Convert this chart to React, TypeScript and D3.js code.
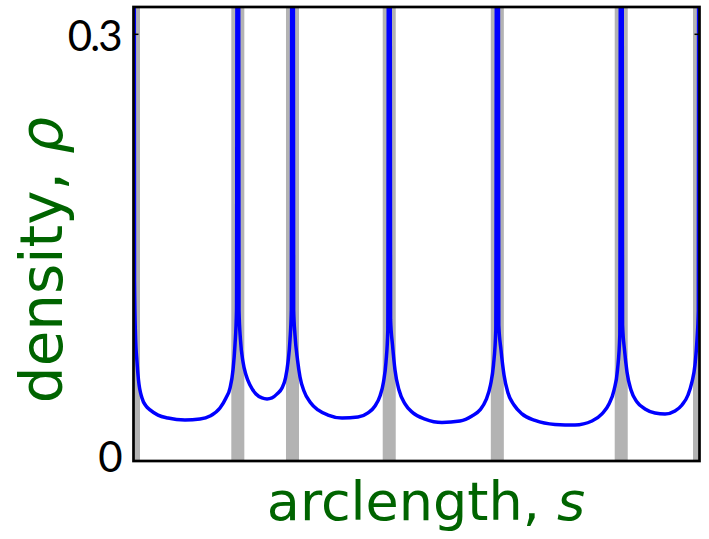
import React, { useEffect, useRef } from 'react';
import * as d3 from 'd3';

// arclength (fraction of total) and density
const arclength = [
  0, 0.0018, 0.0035, 0.0062, 0.0088, 0.015, 0.0221, 0.0292, 0.0433, 0.061, 0.091, 0.1175, 0.1352, 0.1528, 0.1634, 0.1705, 0.1758, 0.1793, 0.182,
  0.1843, 0.1864, 0.189, 0.1935, 0.1988, 0.2058, 0.2164, 0.227, 0.2359, 0.2447, 0.2535, 0.2624, 0.2686, 0.273, 0.2765, 0.2788,
  0.2809, 0.283, 0.2853, 0.2898, 0.2942, 0.3012, 0.3118, 0.326, 0.3436, 0.3684, 0.3967, 0.4143, 0.4267, 0.4355, 0.4417, 0.4461, 0.4493,
  0.4518, 0.4542, 0.4576, 0.462, 0.4691, 0.4797, 0.4938, 0.515, 0.545, 0.5769, 0.598, 0.6122, 0.6228, 0.6307, 0.636, 0.6401,
  0.6428, 0.6454, 0.6493, 0.6546, 0.6617, 0.6723, 0.6864, 0.7094, 0.7447, 0.78, 0.81, 0.8277, 0.8401, 0.849, 0.8551, 0.8592,
  0.8617, 0.8641, 0.8675, 0.8719, 0.879, 0.8896, 0.9037, 0.9214, 0.9391, 0.9567, 0.9691, 0.9797, 0.9867, 0.992, 0.9956, 0.9979,
  1.0,
];
const density = [
  1.0, 0.127, 0.0886, 0.0696, 0.057, 0.0443, 0.0387, 0.0359, 0.0323, 0.0302, 0.0288, 0.0295, 0.0316, 0.0373, 0.0443, 0.0513, 0.064, 0.0816, 0.106,
  1.0, 0.106, 0.0851, 0.0696, 0.0605, 0.0534, 0.0471, 0.0443, 0.0436, 0.0443, 0.0471, 0.0513, 0.0584, 0.0696, 0.0851, 0.106,
  1.0, 0.106, 0.0886, 0.071, 0.0591, 0.0492, 0.0415, 0.0359, 0.0323, 0.0302, 0.0309, 0.0338, 0.0387, 0.0457, 0.0556, 0.0696, 0.0921,
  1.0, 0.0992, 0.0816, 0.064, 0.0499, 0.0401, 0.0338, 0.0295, 0.0271, 0.0281, 0.0316, 0.0359, 0.0429, 0.0534, 0.0675, 0.0921,
  1.0, 0.0956, 0.0781, 0.0605, 0.0478, 0.0394, 0.0331, 0.0285, 0.0257, 0.0253, 0.0281, 0.0331, 0.0401, 0.0499, 0.064, 0.0886,
  1.0, 0.0956, 0.0781, 0.0626, 0.0499, 0.0415, 0.0366, 0.0338, 0.0331, 0.0352, 0.0394, 0.0464, 0.0556, 0.0675, 0.0851, 0.106,
  1.0,
];
// grey bands at the kinks
const bandCenters = [0, 0.1843, 0.2809, 0.4518, 0.6428, 0.8617, 1.0];
const bandWidth = 0.023;
const yTicks = [0, 0.3];
const yTickLabels = ['0', '0.3'];

export default function App() {
  const ref = useRef<SVGSVGElement>(null);

  useEffect(() => {
    const margin = { top: 7, right: 9.5, bottom: 78, left: 133.5 };
    const W = 709;
    const H = 539;
    const width = W - margin.left - margin.right;
    const height = H - margin.top - margin.bottom;

    const svg = d3.select(ref.current);
    svg.selectAll('*').remove();

    const x = d3.scaleLinear().domain([0, 1]).range([0, width]);
    const y = d3.scaleLinear().domain([0, 0.3192]).range([height, 0]);

    svg.append('defs').append('clipPath').attr('id', 'plotclip')
      .append('rect').attr('width', width).attr('height', height);

    const g = svg.append('g').attr('transform', `translate(${margin.left},${margin.top})`);
    const plot = g.append('g').attr('clip-path', 'url(#plotclip)');

    plot.selectAll('rect.band')
      .data(bandCenters)
      .enter()
      .append('rect')
      .attr('class', 'band')
      .attr('x', d => x(d - bandWidth / 2))
      .attr('y', 0)
      .attr('width', x(bandWidth) - x(0))
      .attr('height', height)
      .style('fill', '#b3b3b3');

    const pts = arclength.map((s, i) => [s, density[i]] as [number, number]);
    const line = d3.line<[number, number]>()
      .x(d => x(d[0]))
      .y(d => y(d[1]))
      .curve(d3.curveMonotoneX);

    plot.append('path')
      .datum(pts)
      .attr('d', line)
      .style('fill', 'none')
      .style('stroke', '#0000ff')
      .style('stroke-width', 3.5);

    // inward ticks, both sides
    yTicks.forEach(t => {
      g.append('line').attr('x1', 0).attr('x2', 5).attr('y1', y(t)).attr('y2', y(t))
        .style('stroke', 'black').style('stroke-width', 1.5);
      g.append('line').attr('x1', width - 5).attr('x2', width).attr('y1', y(t)).attr('y2', y(t))
        .style('stroke', 'black').style('stroke-width', 1.5);
    });

    g.append('rect')
      .attr('width', width)
      .attr('height', height)
      .style('fill', 'none')
      .style('stroke', 'black')
      .style('stroke-width', 2.7);

    g.selectAll('text.tick')
      .data(yTicks)
      .enter()
      .append('text')
      .attr('class', 'tick')
      .attr('x', -13)
      .attr('y', (d, i) => y(d) + (i === 0 ? -4 : 2))
      .attr('dy', '0.35em')
      .attr('text-anchor', 'end')
      .style('font-family', 'Lato, sans-serif')
      .style('font-size', '42px')
      .style('letter-spacing', '-2px')
      .text((d, i) => yTickLabels[i]);

    const green = '#006400';
    const xl = svg.append('text')
      .attr('x', 426)
      .attr('y', 520)
      .attr('text-anchor', 'middle')
      .style('font-family', '"DejaVu Sans", sans-serif')
      .style('font-size', '54px')
      .style('fill', green);
    xl.append('tspan').text('arclength, ');
    xl.append('tspan').style('font-style', 'italic').text('s');

    const yl = svg.append('text')
      .attr('transform', 'translate(62,260) rotate(-90)')
      .attr('text-anchor', 'middle')
      .style('font-family', '"DejaVu Sans", sans-serif')
      .style('font-size', '58px')
      .style('fill', green);
    yl.append('tspan').text('density, ');
    yl.append('tspan').style('font-style', 'italic').text('ρ');
  }, []);

  return (
    <svg ref={ref} width={709} height={539}
      style={{ position: 'absolute', left: 0, top: 0, background: 'white' }} />
  );
}
